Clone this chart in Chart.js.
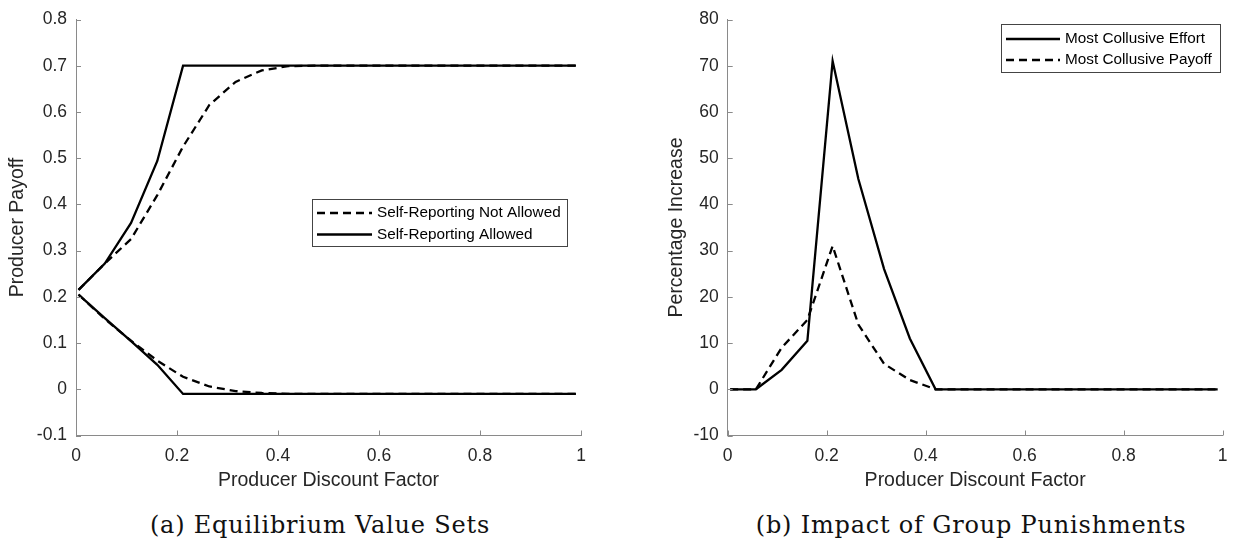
<!DOCTYPE html>
<html lang="en">

<head>
    <meta charset="UTF-8">
    <script src="https://cdn.jsdelivr.net/npm/chart.js"></script>
    <title>Equilibrium Value Sets / Group Punishments</title>
    <style>
        body { margin: 0; background: #fff; width: 1238px; height: 546px; position: relative; overflow: hidden; }
        canvas { position: absolute; top: 0; }
        #chartA { left: 0; }
        #chartB { left: 620px; }
        .caption {
            position: absolute; top: 510px; font-family: "DejaVu Serif", serif; font-size: 24px;
            letter-spacing: 0.8px; line-height: 30px;
            color: #111; white-space: nowrap; transform: translateX(-50%);
        }
    </style>
</head>

<body>
    <canvas id="chartA" width="620" height="500"></canvas>
    <canvas id="chartB" width="618" height="500"></canvas>
    <div class="caption" id="capA" style="left:320px">(a) Equilibrium Value Sets</div>
    <div class="caption" id="capB" style="left:971px">(b) Impact of Group Punishments</div>

    <script>
        // producer discount factor grid (20 points, 0.005 .. 0.99)
        const discount = [0.005, 0.057, 0.109, 0.161, 0.212, 0.264, 0.316, 0.368, 0.420, 0.471,
                          0.523, 0.575, 0.627, 0.679, 0.731, 0.782, 0.834, 0.886, 0.938, 0.990];

        // panel (a): producer payoff bounds
        const notAllowedUpper = [0.215, 0.272, 0.325, 0.420, 0.525, 0.615, 0.665, 0.690, 0.699, 0.700,
                                 0.700, 0.700, 0.700, 0.700, 0.700, 0.700, 0.700, 0.700, 0.700, 0.700];
        const notAllowedLower = [0.205, 0.152, 0.105, 0.062, 0.027, 0.006, -0.004, -0.008, -0.010, -0.010,
                                 -0.010, -0.010, -0.010, -0.010, -0.010, -0.010, -0.010, -0.010, -0.010, -0.010];
        const allowedUpper = [0.215, 0.272, 0.360, 0.494, 0.700, 0.700, 0.700, 0.700, 0.700, 0.700,
                              0.700, 0.700, 0.700, 0.700, 0.700, 0.700, 0.700, 0.700, 0.700, 0.700];
        const allowedLower = [0.205, 0.154, 0.104, 0.053, -0.010, -0.010, -0.010, -0.010, -0.010, -0.010,
                              -0.010, -0.010, -0.010, -0.010, -0.010, -0.010, -0.010, -0.010, -0.010, -0.010];

        // panel (b): percentage increase
        const collusiveEffort = [0, 0, 4.2, 10.5, 71, 45.5, 26, 11, 0, 0,
                                 0, 0, 0, 0, 0, 0, 0, 0, 0, 0];
        const collusivePayoff = [0, 0, 9, 15, 31, 14, 5.5, 2, 0, 0,
                                 0, 0, 0, 0, 0, 0, 0, 0, 0, 0];

        const xTicks = [0, 0.2, 0.4, 0.6, 0.8, 1];
        const yTicksA = [-0.1, 0, 0.1, 0.2, 0.3, 0.4, 0.5, 0.6, 0.7, 0.8];
        const yTicksB = [-10, 0, 10, 20, 30, 40, 50, 60, 70, 80];

        const AXIS_GRAY = '#8a8a8a';
        const TEXT_GRAY = '#262626';
        const FONT = 'Liberation Sans, Arial, sans-serif';
        const DASH = [8, 5];

        function pontos(ys) {
            return discount.map((x, i) => ({ x: x, y: ys[i] }));
        }

        function serie(label, ys, dashed) {
            return {
                label: label,
                data: pontos(ys),
                borderColor: '#000',
                borderWidth: 2.3,
                borderDash: dashed ? DASH : [],
                pointRadius: 0,
                tension: 0,
                fill: false
            };
        }

        // ticks pointing inwards, like the original figure
        const inwardTicks = {
            id: 'inwardTicks',
            afterDatasetsDraw(chart) {
                const { ctx, chartArea, scales } = chart;
                ctx.save();
                ctx.strokeStyle = AXIS_GRAY;
                ctx.lineWidth = 1;
                ctx.beginPath();
                scales.x.ticks.forEach(t => {
                    const px = Math.round(scales.x.getPixelForValue(t.value)) + 0.5;
                    ctx.moveTo(px, chartArea.bottom);
                    ctx.lineTo(px, chartArea.bottom - 5);
                });
                scales.y.ticks.forEach(t => {
                    const py = Math.round(scales.y.getPixelForValue(t.value)) + 0.5;
                    ctx.moveTo(chartArea.left, py);
                    ctx.lineTo(chartArea.left + 5, py);
                });
                ctx.stroke();
                ctx.restore();
            }
        };

        // boxed legend placed inside the plot
        const boxLegend = {
            id: 'boxLegend',
            afterDraw(chart, args, opts) {
                const { ctx } = chart;
                ctx.save();
                ctx.fillStyle = '#fff';
                ctx.fillRect(opts.left, opts.top, opts.width, opts.height);
                ctx.strokeStyle = '#444';
                ctx.lineWidth = 1;
                ctx.strokeRect(opts.left + 0.5, opts.top + 0.5, opts.width, opts.height);
                ctx.font = opts.fontSize + 'px ' + FONT;
                ctx.textBaseline = 'middle';
                opts.items.forEach((idx, i) => {
                    const ds = chart.data.datasets[idx];
                    const cy = opts.top + opts.firstRow + i * opts.rowGap;
                    ctx.strokeStyle = '#000';
                    ctx.lineWidth = 2.3;
                    ctx.setLineDash(ds.borderDash);
                    ctx.beginPath();
                    ctx.moveTo(opts.left + opts.lineStart, cy);
                    ctx.lineTo(opts.left + opts.lineEnd, cy);
                    ctx.stroke();
                    ctx.setLineDash([]);
                    ctx.fillStyle = '#000';
                    ctx.fillText(ds.label, opts.left + opts.textStart, cy);
                });
                ctx.restore();
            }
        };

        function montarGrafico(id, datasets, yTicks, yTitle, yTitlePad, yWidth, padRight, legenda) {
            const ctx = document.getElementById(id).getContext('2d');
            return new Chart(ctx, {
                type: 'line',
                data: { datasets: datasets },
                options: {
                    responsive: false,
                    animation: false,
                    devicePixelRatio: 1,
                    layout: { padding: { left: 0, top: 11, right: padRight, bottom: 4.5 } },
                    plugins: {
                        legend: { display: false },
                        tooltip: { enabled: false },
                        boxLegend: legenda
                    },
                    scales: {
                        x: {
                            type: 'linear',
                            min: xTicks[0],
                            max: xTicks[xTicks.length - 1],
                            afterBuildTicks: s => { s.ticks = xTicks.map(v => ({ value: v })); },
                            afterFit: s => { s.height = 60; },
                            grid: { display: false, drawTicks: false },
                            border: { display: true, color: AXIS_GRAY, width: 1 },
                            ticks: {
                                color: TEXT_GRAY, padding: 10.5, maxRotation: 0, autoSkip: false,
                                font: { family: FONT, size: 17.5 },
                                callback: v => String(+v.toFixed(2))
                            },
                            title: {
                                display: true, text: 'Producer Discount Factor', color: TEXT_GRAY,
                                font: { family: FONT, size: 19.5 }, padding: { top: 0, bottom: 3 }
                            }
                        },
                        y: {
                            type: 'linear',
                            min: yTicks[0],
                            max: yTicks[yTicks.length - 1],
                            afterBuildTicks: s => { s.ticks = yTicks.map(v => ({ value: v })); },
                            afterFit: s => { s.width = yWidth; },
                            grid: { display: false, drawTicks: false },
                            border: { display: true, color: AXIS_GRAY, width: 1 },
                            ticks: {
                                color: TEXT_GRAY, padding: 9, autoSkip: false,
                                font: { family: FONT, size: 17.5 },
                                callback: v => String(+v.toFixed(2))
                            },
                            title: {
                                display: true, text: yTitle, color: TEXT_GRAY,
                                font: { family: FONT, size: 19.5 }, padding: { top: yTitlePad, bottom: 0 }
                            }
                        }
                    }
                },
                plugins: [inwardTicks, boxLegend]
            });
        }

        // (a) Equilibrium Value Sets
        montarGrafico('chartA', [
            serie('Self-Reporting Not Allowed', notAllowedUpper, true),
            serie('Self-Reporting Allowed', allowedUpper, false),
            serie('Self-Reporting Not Allowed', notAllowedLower, true),
            serie('Self-Reporting Allowed', allowedLower, false)
        ], yTicksA, 'Producer Payoff', 6.3, 76, 39, {
            left: 312, top: 199, width: 255, height: 47, items: [0, 1],
            firstRow: 14, rowGap: 21.5, lineStart: 5, lineEnd: 60, textStart: 65, fontSize: 15.3
        });

        // (b) Impact of Group Punishments
        montarGrafico('chartB', [
            serie('Most Collusive Effort', collusiveEffort, false),
            serie('Most Collusive Payoff', collusivePayoff, true)
        ], yTicksB, 'Percentage Increase', 45, 107.7, 5, {
            left: 381, top: 24, width: 219, height: 48, items: [0, 1],
            firstRow: 15, rowGap: 21, lineStart: 5, lineEnd: 59, textStart: 64, fontSize: 15.3
        });
    </script>
</body>

</html>
